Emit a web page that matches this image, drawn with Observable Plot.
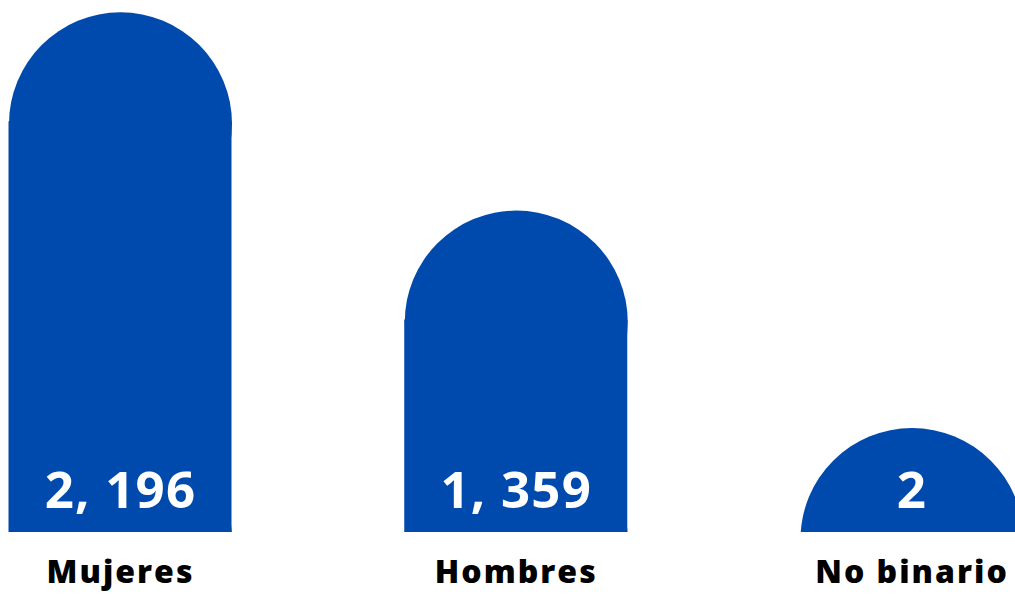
<!DOCTYPE html>
<html>
<head>
<meta charset="utf-8">
<script src="https://cdn.jsdelivr.net/npm/d3@7"></script>
<script src="https://cdn.jsdelivr.net/npm/@observablehq/plot@0.6"></script>
<style>
  html, body { margin: 0; padding: 0; background: #ffffff; overflow: hidden; }
  #chart svg { display: block; }
  #chart g[aria-label="x-axis tick label"] text { letter-spacing: 2px; }
  #chart g[aria-label="text"] text { letter-spacing: 1.2px; }
</style>
</head>
<body>
<div id="chart"></div>
<script>
// Data
const categories = ["Mujeres", "Hombres", "No binario"];
const values = [2196, 1359, 2];
const valueLabels = ["2, 196", "1, 359", "2"];

const data = categories.map((c, i) => ({ category: c, value: values[i], label: valueLabels[i] }));

const BLUE = "#004AAD";
const R = 111.5; // half of the band width, in pixels (rounded top)

const chart = Plot.plot({
  width: 1015,
  height: 594,
  marginTop: 0,
  marginBottom: 62,
  marginLeft: 0,
  marginRight: 0,
  style: { fontFamily: "'Open Sans', 'Noto Sans', sans-serif", background: "white", color: "black" },
  x: { domain: categories, range: [8.5, 1023], paddingInner: 0.43651, paddingOuter: 0, round: false, label: null },
  y: { domain: [0, 2246], axis: null },
  marks: [
    // straight body of each bar, stopping just below the centre of its rounded top
    Plot.barY(data, { x: "category", y: "value", fill: BLUE, insetTop: R - 2, clip: true }),
    // rounded cap on top of each bar
    Plot.dot(data, { x: "category", y: "value", r: R, dy: R, fill: BLUE, clip: true }),
    // minimum visible dome at the baseline
    Plot.dot(data, { x: "category", y: 0, r: R, dy: 7, fill: BLUE, clip: true }),
    // value labels inside the bars
    Plot.text(data, { x: "category", y: 0, text: "label", fill: "white", fontSize: 51, fontWeight: 700, dy: -41 }),
    // category labels
    Plot.axisX({ tickSize: 0, tickPadding: 28, fontSize: 32, fontWeight: 800, fill: "black", label: null })
  ]
});

document.getElementById("chart").appendChild(chart);
</script>
</body>
</html>
